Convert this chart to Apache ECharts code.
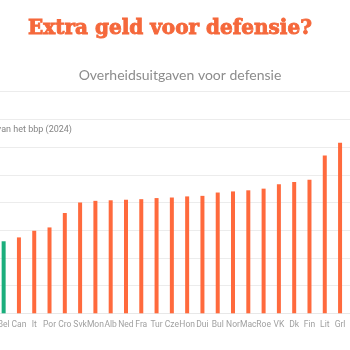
<!DOCTYPE html>
<html>
<head>
<meta charset="utf-8">
<script src="https://cdn.jsdelivr.net/npm/echarts@6/dist/echarts.min.js"></script>
<style>
    html, body { margin: 0; padding: 0; background: #ffffff; overflow: hidden; }
    .frame { position: relative; width: 350px; height: 350px; overflow: hidden; }
    /* the chart is wider than the frame, it is cut off on both sides */
    #chart { position: absolute; left: -40px; top: 0; width: 440px; height: 350px; }
</style>
</head>
<body>
<div class="frame"><div id="chart"></div></div>
<script>
// uitgaven voor defensie, % van het bbp (2024)
var landen = ["Bel", "Can", "It", "Por", "Cro", "Svk", "Mon", "Alb", "Ned", "Fra", "Tur", "Cze",
    "Hon", "Dui", "Bul", "Nor", "Mac", "Roe", "VK", "Dk", "Fin", "Lit", "Grl", "Let"];
var uitgaven = [1.30, 1.37, 1.49, 1.55, 1.81, 2.00, 2.03, 2.04, 2.05, 2.06, 2.08, 2.09,
    2.11, 2.12, 2.18, 2.20, 2.22, 2.25, 2.33, 2.37, 2.41, 2.85, 3.08, 3.15];
var markeerLand = "Bel";

var oranje = '#ff6a3d';
var groen = '#1aae7c';

var chart = echarts.init(document.getElementById('chart'));
chart.setOption({
    backgroundColor: '#ffffff',
    animation: false,
    title: [
        {
            text: 'Extra geld voor defensie?',
            left: 205, top: 14, textAlign: 'center',
            textStyle: {
                fontFamily: 'DejaVu Serif', fontWeight: 'bold', fontSize: 20, color: '#f5683b',
                textBorderColor: '#f5683b', textBorderWidth: 0.9
            }
        },
        {
            text: 'Overheidsuitgaven voor defensie',
            left: 215, top: 63, textAlign: 'center',
            textStyle: { fontFamily: 'Lato', fontWeight: 'normal', fontSize: 14, color: '#8c8c8c' }
        }
    ],
    graphic: [{
        type: 'text',
        x: 112, y: 130,
        style: {
            text: '% van het bbp (2024)',
            align: 'right', verticalAlign: 'middle',
            font: '9px Roboto', fill: '#858585'
        }
    }],
    grid: { left: 36, right: 37, top: 91.7, bottom: 36.7 },
    xAxis: {
        type: 'category',
        data: landen,
        axisLine: { lineStyle: { color: '#e8e8e8' } },
        axisTick: { show: false },
        axisLabel: { color: '#a0a0a0', fontFamily: 'Roboto', fontSize: 8.5, margin: 7, interval: 0 }
    },
    yAxis: {
        type: 'value',
        min: 0, max: 4, interval: 0.5,
        axisLabel: { show: false },
        splitLine: { lineStyle: { color: '#ececec' } }
    },
    series: [{
        type: 'bar',
        barWidth: 4,
        data: uitgaven.map(function (v, i) {
            return { value: v, itemStyle: { color: landen[i] === markeerLand ? groen : oranje } };
        })
    }]
});
</script>
</body>
</html>
